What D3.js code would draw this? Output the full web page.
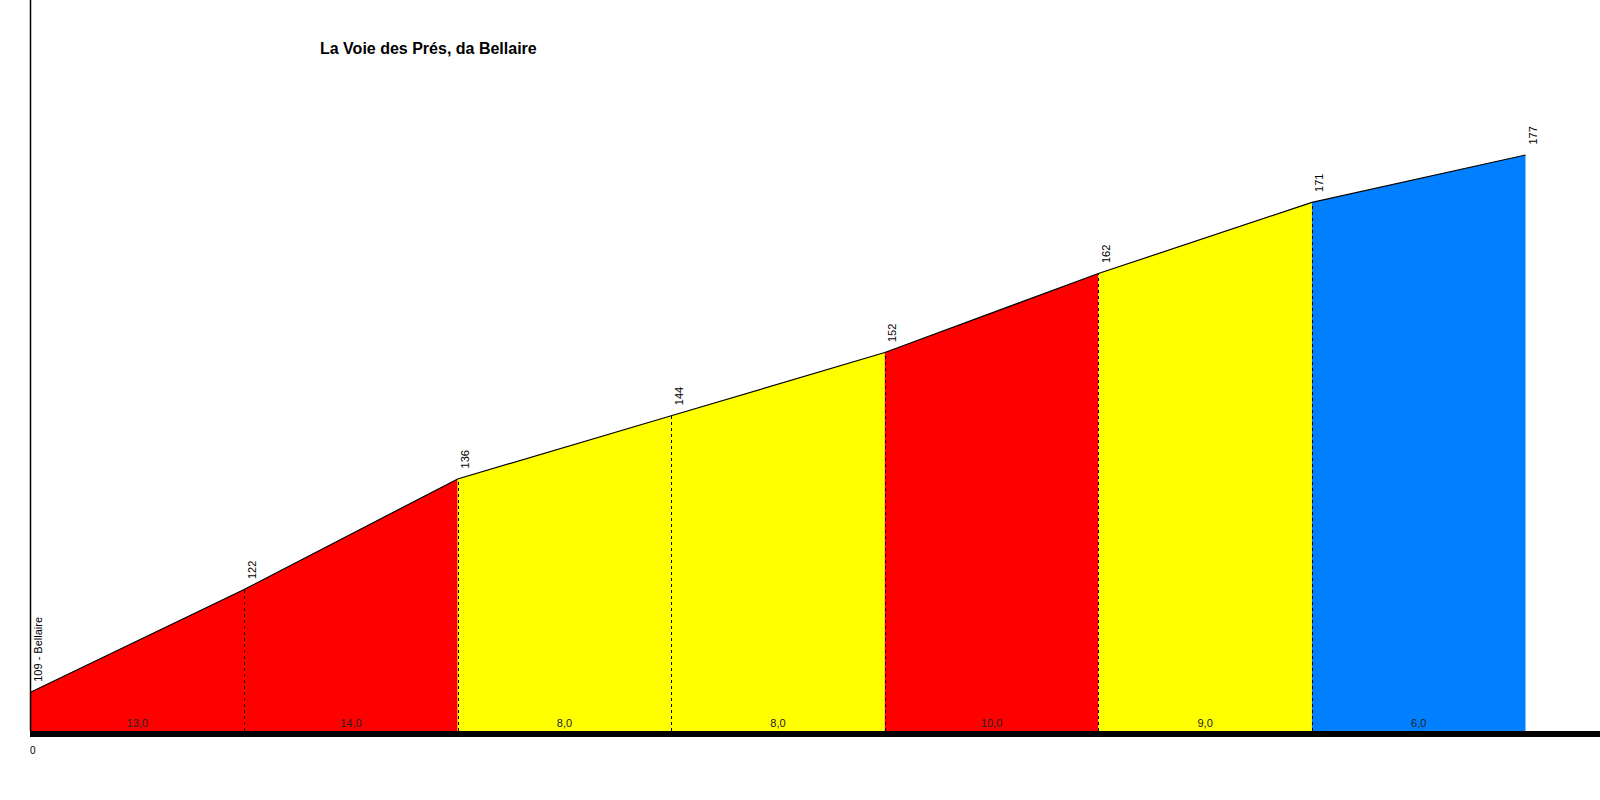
<!DOCTYPE html>
<html><head><meta charset="utf-8">
<script src="https://cdn.jsdelivr.net/npm/d3@7"></script>
<style>html,body{margin:0;padding:0;background:#fff;}svg{display:block;}</style>
</head><body>
<script>
const title = "La Voie des Prés, da Bellaire";
const distances = [0, 100, 200, 300, 400, 500, 600, 700];
const elevations = [109, 122, 136, 144, 152, 162, 171, 177];
const pointLabels = ["109 - Bellaire", "122", "136", "144", "152", "162", "171", "177"];
const gradientLabels = ["13,0", "14,0", "8,0", "8,0", "10,0", "9,0", "6,0"];
const segmentColors = ["#ff0000", "#ff0000", "#ffff00", "#ffff00", "#ff0000", "#ffff00", "#0080ff"];
const xTickLabels = ["0"];

const W = 1600, H = 800;
const svg = d3.select("body").append("svg").attr("width", W).attr("height", H);
const font = "Arial, 'Liberation Sans', sans-serif";

const x = d3.scaleLinear().domain([0, 700]).range([30.5, 1525.5]);
const y = d3.scaleLinear().domain([104.1, 177]).range([731, 155]);
const baseElev = 104.1;

const area = d3.area().x(d => x(d.d)).y0(y(baseElev)).y1(d => y(d.e));

for (let i = 0; i < distances.length - 1; i++) {
  const seg = [{d: distances[i], e: elevations[i]}, {d: distances[i+1], e: elevations[i+1]}];
  svg.append("path").attr("d", area(seg)).attr("fill", segmentColors[i]).attr("stroke", "none");
}

for (let i = 1; i < distances.length - 1; i++) {
  svg.append("line")
    .attr("x1", Math.round(x(distances[i])) + 0.5).attr("x2", Math.round(x(distances[i])) + 0.5)
    .attr("y1", y(baseElev)).attr("y2", y(elevations[i]))
    .attr("stroke", "#000").attr("stroke-width", 1).attr("stroke-dasharray", "3,3");
}

const line = d3.line().x((d, i) => x(distances[i])).y(d => y(d));
svg.append("path").attr("d", line(elevations)).attr("fill", "none").attr("stroke", "#000").attr("stroke-width", 1.2);

svg.append("line").attr("x1", 30.5).attr("x2", 30.5).attr("y1", 0).attr("y2", y(baseElev))
  .attr("stroke", "#000").attr("stroke-width", 1.5);

svg.append("rect").attr("x", 30).attr("y", y(baseElev)).attr("width", W - 30).attr("height", 6).attr("fill", "#000");

for (let i = 0; i < gradientLabels.length; i++) {
  svg.append("text")
    .attr("x", (x(distances[i]) + x(distances[i+1])) / 2).attr("y", 727)
    .attr("text-anchor", "middle").attr("font-family", font).attr("font-size", 11)
    .attr("fill", "#222").text(gradientLabels[i]);
}

for (let i = 0; i < elevations.length; i++) {
  const px = x(distances[i]) + 11.5, py = y(elevations[i]) - 10.5;
  svg.append("text")
    .attr("transform", `translate(${px},${py}) rotate(-90)`)
    .attr("text-anchor", "start").attr("font-family", font).attr("font-size", 11)
    .attr("fill", "#000").text(pointLabels[i]);
}

svg.append("text").attr("x", 30).attr("y", 754).attr("font-family", font).attr("font-size", 10)
  .attr("fill", "#000").text(xTickLabels[0]);

svg.append("text").attr("x", 320).attr("y", 54).attr("font-family", font).attr("font-size", 16)
  .attr("font-weight", "bold").attr("fill", "#000").text(title);
</script>
</body></html>
